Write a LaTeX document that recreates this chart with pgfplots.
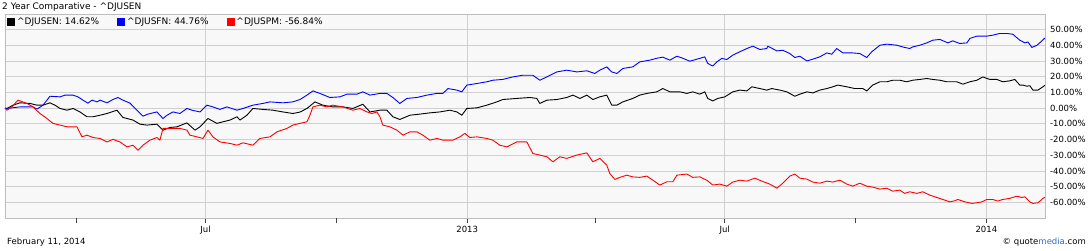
\documentclass[border=0pt]{standalone}
\usepackage{fontspec}
\setmainfont{DejaVu Sans}
\usepackage{pgfplots}
\pgfplotsset{compat=1.18}
\definecolor{gridc}{HTML}{CFCFCF}
\definecolor{bordc}{HTML}{BDBDBD}
\definecolor{bgc}{HTML}{F8F8F8}
\definecolor{qmblue}{HTML}{3366CC}
\definecolor{sblue}{HTML}{0000FF}
\definecolor{sred}{HTML}{FF0000}
\begin{document}
\begin{tikzpicture}
\useasboundingbox (0,0) rectangle (1090pt,250pt);
\begin{axis}[
  at={(5pt,32pt)}, anchor=south west,
  scale only axis, width=1040pt, height=204pt,
  xmin=41, xmax=772.2, ymin=-70, ymax=60,
  axis background/.style={fill=bgc},
  axis line style={bordc, line width=0.8pt},
  xtick={182,366,547,731},
  xticklabels={Jul,2013,Jul,2014},
  extra x ticks={91,274,456,639},
  extra x tick labels={},
  extra x tick style={grid=none},
  ytick={-60,-50,...,50},
  xmajorgrids, ymajorgrids,
  grid style={gridc, line width=0.8pt},
  xtick pos=lower, ytick pos=right,
  yticklabel pos=right,
  tick align=outside,
  major tick length=5pt,
  xtick style={black!75, line width=0.8pt},
  ytick style={draw=none},
  /pgf/number format/assume math mode=true,
  ticklabel style={font=\fontsize{8.5}{10}\selectfont, text=black},
  yticklabel style={anchor=west, inner sep=0pt, xshift=0pt},
  yticklabel={\pgfmathprintnumber[fixed,fixed zerofill,precision=2]{\tick}\%},
  legend columns=3,
  legend style={at={(axis description cs:0,1)}, anchor=north west, draw=none, fill=none,
    font=\fontsize{9}{10}\selectfont, inner xsep=2pt, inner ysep=2pt,
    /tikz/every even column/.append style={column sep=16pt}},
  legend image code/.code={\fill[#1] (0pt,-3.5pt) rectangle (7pt,3.5pt);},
  every axis plot/.append style={line width=0.9pt, line join=round, mark=none},
]
\addplot[color=black] coordinates {
(41,0)(42.4,-0.2)(46.6,1.9)(51.5,3.4)(58.6,3.0)(63.5,1.9)(67.7,1.9)(72.6,3.4)(76.1,1.9)(79.7,-0.2)
(84.6,-1.3)(88.8,-0.2)(93.7,-2.4)(98.6,-5.5)(102.9,-5.5)(107.8,-4.5)(112.7,-3.4)(119.7,-1.3)(123.9,-5.9)
(131.0,-7.6)(135.9,-10.2)(140.8,-10.8)(147.8,-10.2)(152.1,-14.0)(157.0,-12.3)(161.9,-11.9)(168.9,-9.4)
(174.6,-14.0)(178.1,-11.9)(183.7,-6.6)(190.0,-9.7)(194.2,-8.7)(199.2,-7.6)(204.1,-5.5)(206.2,-7.6)
(211.1,-4.5)(215.3,-0.2)(222.3,-0.8)(229.4,-1.3)(236.4,-2.4)(243.4,-3.4)(248.4,-2.5)(253.3,-0.2)
(258.9,4.0)(264.5,1.9)(271.5,0.8)(278.6,0.8)(285.6,-0.2)(292.6,2.5)(297.6,-2.4)(304.6,-1.3)(309.5,-1.3)
(313.7,-5.5)(318.6,-7.2)(325.7,-4.5)(332.7,-3.8)(339.7,-3.0)(346.8,-2.4)(353.8,-1.3)(358.7,-2.4)
(362.2,-4.5)(365.7,-0.2)(372.8,0.2)(379.8,1.9)(386.8,4.0)(391.0,5.5)(400.9,6.2)(410.0,6.8)(414.9,6.2)
(417.0,3.0)(422.0,5.1)(429.0,5.5)(436.0,6.8)(440.3,8.3)(445.2,6.2)(450.1,8.3)(454.3,5.5)(459.2,7.2)
(464.1,8.3)(467.6,1.9)(471.2,1.9)(475.4,4.0)(482.4,6.2)(487.3,8.3)(492.3,9.4)(499.3,10.4)(503.5,12.5)
(508.5,10.4)(515.5,10.4)(520.4,9.4)(524.6,10.4)(529.5,8.9)(533.0,10.4)(535.1,6.2)(538.6,4.6)(542.2,6.2)
(547.1,7.2)(552.7,10.4)(557.6,11.5)(562.6,11.0)(566.1,13.6)(571.7,12.5)(576.6,11.5)(580.1,12.5)
(585.8,11.5)(590.7,10.4)(596.3,7.6)(599.8,8.9)(604.8,10.4)(609.0,9.7)(613.9,11.5)(618.8,12.5)
(623.0,13.6)(626.5,14.7)(632.9,13.6)(638.5,12.5)(644.1,12.5)(646.9,11.0)(651.1,14.7)(656.1,16.8)
(661.0,16.8)(665.2,17.8)(670.1,17.8)(675.0,16.8)(679.2,17.8)(684.2,18.3)(689.1,18.9)(693.3,18.3)
(698.3,17.8)(703.2,16.8)(710.2,16.8)(714.5,15.3)(719.4,16.8)(724.3,17.8)(728.5,19.9)(733.4,18.3)
(738.4,18.3)(742.5,16.8)(747.4,17.4)(751.0,18.3)(754.5,14.7)(756.7,14.7)(759.5,14.0)(761.6,14.3)
(763.7,11.5)(767.3,11.5)(770.1,13.2)(772.2,14.62)
};
\addlegendentry{\textasciicircum DJUSEN: 14.62\%}
\addplot[color=sblue] coordinates {
(41,0)(42.4,-0.2)(51.5,0.8)(60.7,0.8)(63.5,-0.6)(67.7,1.9)(70.5,5.1)(72.6,7.6)(79.7,7.2)(83.2,8.3)
(88.8,8.3)(92.3,7.2)(95.8,5.1)(99.3,3.2)(102.2,5.1)(105.7,4.0)(107.8,5.1)(112.7,3.4)(116.9,5.5)
(120.4,6.8)(123.9,5.1)(128.9,3.2)(133.8,-1.3)(138.0,-5.1)(141.5,-3.8)(147.8,-2.4)(152.1,-6.6)
(154.9,-4.5)(159.1,-2.4)(164.0,-3.4)(168.9,-0.2)(172.4,-1.3)(178.1,-2.4)(183.0,1.9)(187.2,0.8)
(192.1,-0.8)(197.0,0.8)(204.1,-1.3)(208.3,-0.2)(215.3,1.9)(222.3,3.0)(227.3,4.0)(236.4,3.4)(243.4,4.0)
(248.4,5.5)(253.3,8.3)(257.5,11.0)(262.4,9.4)(269.4,6.8)(276.5,7.2)(281.4,8.9)(288.4,8.9)(292.6,10.4)
(297.6,8.3)(304.6,9.4)(309.5,9.4)(313.7,6.8)(318.6,3.0)(323.6,6.2)(330.6,6.8)(337.6,8.3)(344.7,9.4)
(348.9,9.4)(352.4,12.5)(358.7,11.5)(362.2,10.4)(365.7,14.7)(372.8,15.7)(379.8,16.8)(384.0,17.8)
(391.0,18.3)(398.1,19.9)(405.1,21.0)(412.1,21.0)(417.0,17.8)(422.0,19.9)(429.0,23.1)(436.0,24.2)
(443.1,23.1)(450.1,23.8)(455.7,22.1)(459.2,24.2)(464.1,26.3)(467.6,23.1)(471.2,22.1)(475.4,25.3)
(482.4,26.3)(487.3,29.5)(494.4,30.6)(499.3,31.8)(503.5,32.5)(508.5,30.6)(513.4,33.1)(517.6,31.8)
(522.5,29.9)(527.4,31.2)(529.5,31.7)(533.0,32.7)(535.1,28.5)(538.6,26.8)(541.5,29.5)(545.0,31.7)
(548.5,31.0)(552.7,33.8)(557.6,35.9)(562.6,38.0)(566.8,39.5)(571.7,37.4)(576.6,38.0)(577.3,39.5)
(583.7,36.5)(587.9,36.9)(592.8,34.8)(596.3,32.3)(599.8,33.1)(604.8,30.1)(608.2,31.0)(613.9,32.7)
(618.8,35.2)(622.3,34.4)(625.8,38.0)(630.1,35.2)(637.1,35.2)(642.0,34.8)(646.9,32.3)(650.4,35.9)
(656.1,40.1)(661.0,40.8)(668.0,40.1)(672.2,39.0)(677.1,38.0)(679.2,39.0)(684.2,40.1)(689.1,41.6)
(693.3,43.3)(698.3,43.8)(703.9,41.6)(707.4,42.9)(712.3,41.2)(717.3,41.6)(719.4,44.4)(724.3,45.9)
(731.3,45.9)(735.5,46.5)(740.4,47.6)(745.4,47.6)(749.6,47.1)(754.5,43.3)(758.1,41.6)(760.2,42.2)
(763.0,38.7)(766.6,40.1)(770.1,42.9)(772.2,44.76)
};
\addlegendentry{\textasciicircum DJUSFN: 44.76\%}
\addplot[color=sred] coordinates {
(41,0)(42.4,-1.3)(45.9,0.8)(50.1,5.1)(56.5,3.0)(60.7,0.8)(65.6,-3.4)(70.5,-6.6)(74.7,-9.7)(79.7,-10.8)
(84.6,-11.9)(91.6,-11.9)(95.1,-18.3)(98.6,-17.2)(102.9,-18.7)(107.8,-19.3)(112.7,-21.5)(116.9,-19.9)
(121.8,-21.5)(126.8,-24.7)(131.0,-23.6)(134.5,-26.8)(138.0,-23.6)(142.9,-20.4)(147.8,-18.7)(149.9,-20.4)
(152.1,-12.9)(157.0,-12.9)(164.0,-12.9)(168.9,-14.0)(171.0,-17.2)(176.0,-18.3)(180.2,-19.3)(183.7,-14.0)
(187.2,-18.3)(192.1,-21.5)(199.2,-22.5)(204.1,-23.6)(208.3,-22.1)(215.3,-23.6)(220.2,-19.3)(227.3,-18.3)
(232.2,-15.1)(239.2,-12.9)(243.4,-10.8)(248.4,-9.7)(253.3,-8.7)(255.4,-4.5)(257.5,0.8)(262.4,1.9)
(267.3,0.8)(271.5,1.9)(278.6,0.8)(285.6,-1.3)(290.5,-0.2)(295.5,-2.4)(299.0,-3.4)(302.5,-2.4)
(304.6,-5.5)(306.7,-10.8)(311.6,-11.9)(316.5,-14.0)(320.8,-17.2)(325.7,-15.1)(330.6,-15.1)(334.8,-17.2)
(339.7,-20.4)(344.7,-19.3)(348.9,-20.4)(355.9,-20.4)(360.8,-18.3)(364.3,-16.1)(367.8,-18.7)(372.8,-18.3)
(379.8,-19.3)(384.0,-20.4)(388.9,-23.6)(393.9,-24.7)(400.9,-21.5)(407.9,-21.5)(412.1,-28.9)(417.0,-29.9)
(422.0,-31.0)(426.2,-34.2)(431.1,-31.0)(436.0,-32.0)(443.1,-29.9)(450.1,-28.5)(454.3,-34.2)(459.2,-32.0)
(464.1,-36.3)(466.2,-41.6)(469.8,-45.4)(473.3,-44.1)(478.2,-42.7)(482.4,-43.8)(487.3,-44.1)(492.3,-43.3)
(496.5,-45.9)(501.4,-49.0)(506.4,-46.9)(510.6,-46.9)(513.4,-42.7)(520.4,-42.0)(524.6,-44.1)(529.5,-43.8)
(534.4,-45.9)(538.6,-49.0)(543.6,-48.4)(548.5,-49.7)(552.7,-47.1)(557.6,-45.9)(562.6,-46.5)(568.2,-44.6)
(573.1,-46.5)(578.7,-48.4)(583.7,-51.0)(587.9,-47.8)(592.8,-43.3)(596.3,-42.0)(599.8,-44.6)(604.8,-45.2)
(609.0,-47.1)(613.9,-47.8)(618.8,-46.5)(623.0,-47.1)(628.0,-45.9)(632.9,-48.4)(637.1,-49.7)(642.0,-47.8)
(646.9,-49.7)(651.1,-50.3)(656.1,-51.6)(661.0,-51.0)(665.2,-52.9)(670.1,-52.2)(673.6,-54.3)(677.1,-53.3)
(682.1,-54.3)(686.3,-53.3)(691.2,-55.4)(696.1,-56.9)(700.4,-58.2)(705.3,-59.7)(708.8,-59.0)(710.9,-58.2)
(715.9,-59.7)(720.8,-60.7)(724.3,-60.3)(727.8,-59.7)(731.3,-58.2)(735.5,-58.2)(739.0,-59.2)(742.5,-58.2)
(747.4,-57.5)(752.4,-56.1)(755.9,-56.9)(758.1,-56.5)(761.6,-59.7)(763.7,-60.7)(767.3,-60.3)(770.8,-57.5)
(772.2,-56.84)
};
\addlegendentry{\textasciicircum DJUSPM: -56.84\%}
\end{axis}
\node[anchor=base west, inner sep=0pt, font=\fontsize{9}{10}\selectfont] at (2pt,240.5pt) {2 Year Comparative - \textasciicircum DJUSEN};
\node[anchor=base west, inner sep=0pt, font=\fontsize{8.5}{10}\selectfont] at (7pt,6pt) {February 11, 2014};
\node[anchor=base east, inner sep=0pt, font=\fontsize{8.5}{10}\selectfont] at (1086pt,6pt) {© quote\textcolor{qmblue}{media}.com};
\end{tikzpicture}
\end{document}
